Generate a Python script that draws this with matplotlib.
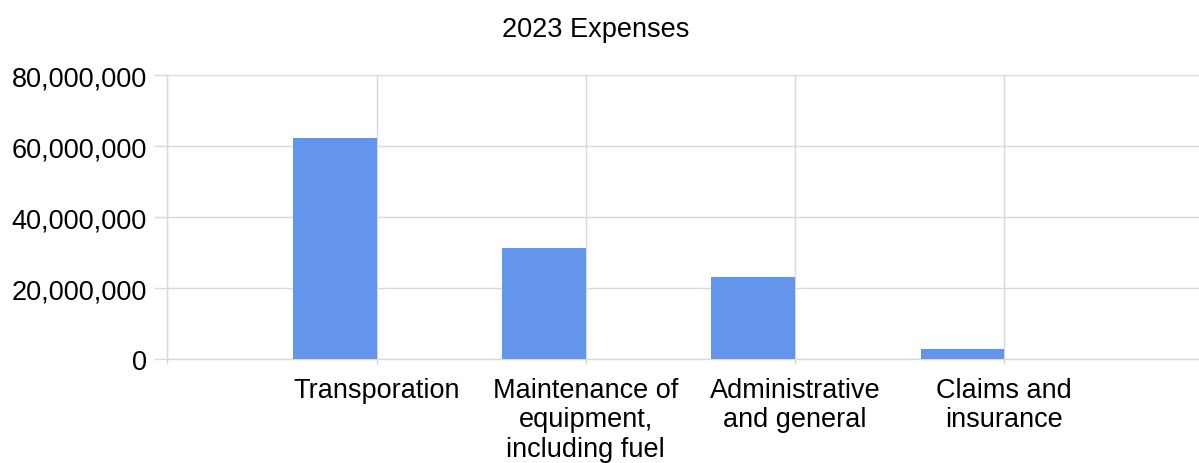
import matplotlib
matplotlib.use('Agg')
import matplotlib.pyplot as plt
from matplotlib.ticker import FuncFormatter

plt.rcParams['font.family'] = ['Liberation Sans', 'DejaVu Sans']

categories = ['Transporation', 'Maintenance of\nequipment,\nincluding fuel',
              'Administrative\nand general', 'Claims and\ninsurance']
expenses = [62300000, 31300000, 23000000, 2800000]
y_ticks = [0, 20000000, 40000000, 60000000, 80000000]

C_BAR = '#6495ED'
C_GRID = '#d9d9d9'

fig = plt.figure(figsize=(11.99, 4.64), dpi=100)
ax = fig.add_axes([0.1395, 0.2241, 0.8727, 0.612])

pos = list(range(1, len(categories) + 1))
ax.bar(pos, expenses, width=-0.4, align='edge', color=C_BAR, zorder=3)

ax.set_xlim(0, len(categories) + 1)
ax.set_ylim(0, 80000000)
ax.set_yticks(y_ticks)
ax.yaxis.set_major_formatter(FuncFormatter(lambda v, p: f'{int(v):,}'))
ax.set_xticks(range(0, len(categories) + 2))
ax.set_xticklabels([''] + categories + [''], linespacing=1.18)

ax.grid(True, color=C_GRID, lw=1.0, zorder=0)
for s in ['top', 'right']:
    ax.spines[s].set_visible(False)
for s in ['left', 'bottom']:
    ax.spines[s].set_color(C_GRID)
    ax.spines[s].set_linewidth(1.0)

ax.tick_params(axis='y', length=9.5, width=1.0, color=C_GRID, pad=5,
               labelsize=19.5, labelcolor='black')
ax.tick_params(axis='x', length=3.6, width=1.0, color=C_GRID, pad=9,
               labelsize=19.5, labelcolor='black')

fig.text(0.4966, 0.935, '2023 Expenses', fontsize=19.5, ha='center', va='center')

fig.savefig('out.png', dpi=100, facecolor='white')
